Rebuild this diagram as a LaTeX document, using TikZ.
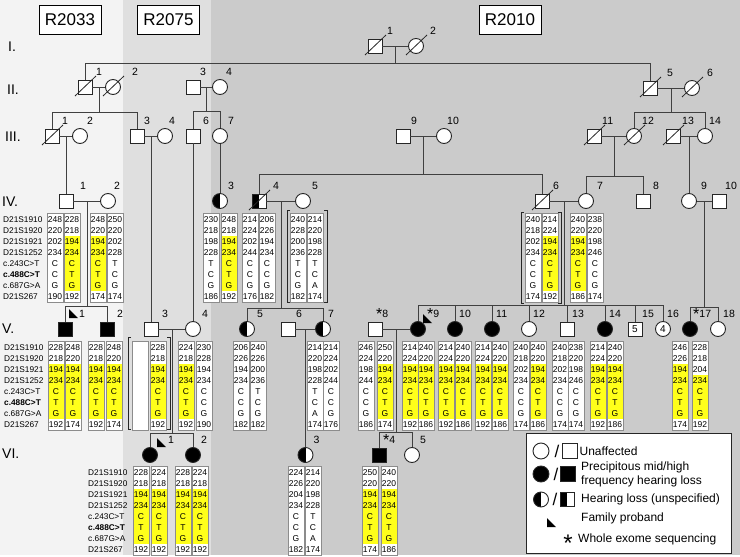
\documentclass[tikz,border=0pt]{standalone}
\usepackage{fontspec}
\setmainfont{Liberation Sans}
\usetikzlibrary{calc,positioning}

\definecolor{bandA}{HTML}{F3F3F3}
\definecolor{bandB}{HTML}{DFDFDF}
\definecolor{bandC}{HTML}{CBCBCB}
\definecolor{hl}{HTML}{FFFF1A}

% haplotype column: name, x, y of first row, first yellow row (0 = none), alleles
\newcommand{\gcol}[5]{%
  \fill[white] (#2-8,#3-6) rectangle (#2+8,#3+83);
  \ifnum#4>0 \fill[hl] (#2-8,#3+#4*11-16.5) rectangle (#2+8,#3+71.5);\fi
  \draw[gbox] (#2-8,#3-6) rectangle (#2+8,#3+83);
  \foreach \v [count=\i from 0] in {#5} {\node[gt] (#1-\i) at (#2,#3+\i*11) {\v};}
}
% marker names
\newcommand{\markers}[3]{%
  \foreach \m [count=\i from 0] in {D21S1910,D21S1920,D21S1921,D21S1252,c.243C>T,\textbf{c.488C>T},c.687G>A,D21S267}
    {\node[mk] (#1-\i) at (#2,#3+\i*11) {\m};}
}
% inferred genotypes
\newcommand{\brk}[4]{%
  \draw[brkt] (#1+3,#3) -- (#1,#3) -- (#1,#4) -- (#1+3,#4);
  \draw[brkt] (#2-3,#3) -- (#2,#3) -- (#2,#4) -- (#2-3,#4);
}
\newcommand{\proband}[3]{\fill ([shift={(#2,#3)}]#1.center) -- ++(0,-9) -- ++(9,9) -- cycle;}
% whole exome mark
\newcommand{\wes}{\raisebox{-2.5pt}{\fontsize{16}{16}\selectfont *}}

\begin{document}
\begin{tikzpicture}[x=1pt,y=-1pt,
    ln/.style={line width=0.9pt, draw=black!75},
    dline/.style={line width=0.8pt, draw=black!85},
    ind/.style={draw=black!85, line width=0.9pt, fill=white, inner sep=0pt, font=\fontsize{10}{10}\selectfont},
    male/.style={ind, rectangle, minimum size=14pt},
    female/.style={ind, circle, minimum size=15pt},
    aff/.style={fill=black},
    half/.style={path picture={\fill[black] (path picture bounding box.south west) rectangle (path picture bounding box.north);}},
    lbl/.style={anchor=west, inner sep=0pt, font=\fontsize{10.5}{11}\selectfont},
    num/.style 2 args={append after command={([shift={(#1,-15)}]\tikzlastnode.center) node[lbl]{#2}}},
    gen/.style={anchor=west, inner sep=0pt, font=\fontsize{14}{14}\selectfont},
    fam/.style={draw, line width=0.8pt, fill=white, minimum width=62pt, minimum height=29pt, font=\fontsize{17}{17}\selectfont},
    gbox/.style={draw=black!45, line width=0.5pt},
    gt/.style={inner sep=0pt, text height=6pt, text depth=0pt, font=\fontsize{8.5}{9}\selectfont},
    mk/.style={anchor=west, inner sep=0pt, text height=6pt, text depth=0pt, font=\fontsize{8.3}{9}\selectfont},
    brkt/.style={line width=0.8pt, draw=black!85},
    lgtxt/.style={anchor=west, inner sep=0pt, align=left, font=\fontsize{12}{14}\selectfont}
]
\useasboundingbox (0,0) rectangle (740,557);
\fill[white] (0,0) rectangle (740,557);
\fill[bandA] (0,0) rectangle (123,555);
\fill[bandB] (123,0) rectangle (211,555);
\fill[bandC] (211,0) rectangle (740,555);

\node[fam] (fA) at (70,19.5) {R2033};
\node[fam] (fB) at (168.5,19.5) {R2075};
\node[fam] (fC) at (510,20) {R2010};

\node[gen] (gI) at (8,47) {I.};
\node[gen] (gII) at (7,90) {II.};
\node[gen] (gIII) at (5,137) {III.};
\node[gen] (gIV) at (2,202) {IV.};
\node[gen] (gV) at (2,329) {V.};
\node[gen] (gVI) at (2,454) {VI.};

% generation I
\node[male, num={12}{1}] (I1) at (375,46) {};
\node[female, num={14}{2}] (I2) at (416,46) {};
% generation II
\node[male, num={11}{1}] (II1) at (85,87) {};
\node[female, num={19}{2}] (II2) at (113,87) {};
\node[male, num={7}{3}] (II3) at (193,87) {};
\node[female, num={6}{4}] (II4) at (220,87) {};
\node[male, num={17}{5}] (II5) at (650,88) {};
\node[female, num={15}{6}] (II6) at (692,88) {};
% generation III
\node[male, num={10}{1}] (III1) at (52,136) {};
\node[female, num={7}{2}] (III2) at (80,136) {};
\node[male, num={7}{3}] (III3) at (137,136) {};
\node[female, num={4}{4}] (III4) at (165,136) {};
\node[male, num={10}{6}] (III6) at (193,136) {};
\node[female, num={8}{7}] (III7) at (220,136) {};
\node[male, num={8}{9}] (III9) at (403,136) {};
\node[female, num={3}{10}] (III10) at (444,136) {};
\node[male, num={8}{11}] (III11) at (594,136) {};
\node[female, num={8}{12}] (III12) at (634,136) {};
\node[male, num={9}{13}] (III13) at (673,136) {};
\node[female, num={4}{14}] (III14) at (705,136) {};
% generation IV
\node[male, num={14}{1}] (IV1) at (66,201) {};
\node[female, num={6}{2}] (IV2) at (108,201) {};
\node[female, half, num={8}{3}] (IV3) at (220,201) {};
\node[male, half, num={14}{4}] (IV4) at (259,201) {};
\node[female, num={9}{5}] (IV5) at (303,201) {};
\node[male, num={11}{6}] (IV6) at (542,201) {};
\node[female, num={11}{7}] (IV7) at (586,201) {};
\node[male, num={10}{8}] (IV8) at (643,201) {};
\node[female, num={12}{9}] (IV9) at (689,201) {};
\node[male, num={6}{10}] (IV10) at (719,201) {};
% generation V
\node[male, aff, num={14}{1}] (V1) at (65,329) {};
\node[male, aff, num={10}{2}] (V2) at (107,329) {};
\node[male, num={11}{3}] (V3) at (151,329) {};
\node[female, num={9}{4}] (V4) at (193,329) {};
\node[female, half, num={10}{5}] (V5) at (247,329) {};
\node[male, num={8}{6}] (V6) at (288,329) {};
\node[female, half, num={5}{7}] (V7) at (323,329) {};
\node[male, num={1}{\wes 8}] (V8) at (375,329) {};
\node[female, aff, num={9}{\wes 9}] (V9) at (418,329) {};
\node[female, aff, num={4}{10}] (V10) at (455,329) {};
\node[female, aff, num={4}{11}] (V11) at (492,329) {};
\node[female, num={4}{12}] (V12) at (529,329) {};
\node[male, num={5}{13}] (V13) at (567,329) {};
\node[female, aff, num={4}{14}] (V14) at (605,329) {};
\node[male, num={7}{15}] (V15) at (635,329) {5};
\node[female, num={4}{16}] (V16) at (663,329) {4};
\node[female, aff, num={3}{\wes 17}] (V17) at (690,329) {};
\node[female, num={5}{18}] (V18) at (718,329) {};
% generation VI
\node[female, aff, num={18}{1}] (VI1) at (150,455) {};
\node[female, aff, num={8}{2}] (VI2) at (193,455) {};
\node[female, half, num={8}{3}] (VI3) at (305.5,455) {};
\node[male, aff, num={4}{\wes 4}] (VI4) at (379,455) {};
\node[female, num={8}{5}] (VI5) at (412,455) {};

\foreach \n in {I1,I2,II1,II2,II5,II6,III1,III11,III12,III13,IV4,IV6}
  \draw[dline] ([shift={(-10,9)}]\n.center) -- ([shift={(11,-11)}]\n.center);
\proband{V1}{4}{-11}
\proband{V9}{5}{-6}
\proband{VI1}{7}{-8}

% couples and sibships
\foreach \a/\b in {I1/I2,II1/II2,II3/II4,II5/II6,III1/III2,III3/III4,III9/III10,III11/III12,III13/III14,IV1/IV2,IV4/IV5,IV6/IV7,IV9/IV10,V3/V4,V6/V7,V8/V9}
  {\draw[ln] (\a.east) -- (\b.west);
   \coordinate (m\a) at ($(\a)!.5!(\b)$);}
\foreach \p/\y/\f/\l in {I1/63/II1/II5,II1/112/III1/III3,II3/111/III6/III7,II5/112/III12/III14,III9/174/IV4/IV6,III11/176/IV7/IV8,IV1/306/V1/V2,IV4/308/V5/V7,IV6/305/V9/V16,IV9/307/V17/V18,V3/433/VI1/VI2,V8/432/VI4/VI5}
  {\coordinate (s\p) at (0,\y);
   \draw[ln] (m\p) -- (m\p |- s\p);
   \draw[ln] (\f.north) |- (\l.north |- s\p) -- (\l.north);}
\foreach \c in {V10,V11,V12,V13,V14,V15}
  \draw[ln] (\c.north) -- (\c.north |- sIV6);
\draw[ln] (IV1.north) -- (IV1.north |- mIII1);
\draw[ln] (V3.north) -- (V3.north |- mIII3);
\draw[ln] (V4.north) -- (V4.north |- III6.south);
\draw[ln] (IV3.north) -- (IV3.north |- III7.south);
\draw[ln] (IV9.north) -- (IV9.north |- mIII13);
\draw[ln] (VI3.north) -- (VI3.north |- mV6);

% R2033
\markers{mkIV}{3}{219}
\gcol{IV1a}{55}{219}{0}{248,220,202,234,C,C,G,190}
\gcol{IV1b}{72}{219}{3}{228,218,194,234,C,T,G,192}
\gcol{IV2a}{98}{219}{3}{248,220,194,234,C,T,G,174}
\gcol{IV2b}{115}{219}{0}{250,220,202,228,T,C,G,174}
\markers{mkV}{4}{347}
\gcol{V1a}{56}{347}{3}{228,218,194,234,C,T,G,192}
\gcol{V1b}{73}{347}{3}{248,220,194,234,C,T,G,174}
\gcol{V2a}{96}{347}{3}{228,218,194,234,C,T,G,192}
\gcol{V2b}{114}{347}{3}{248,220,194,234,C,T,G,174}

% R2075
\gcol{V3a}{140}{347}{0}{}
\gcol{V3b}{158}{347}{3}{228,218,194,234,C,T,G,192}
\brk{128}{170}{337}{429}
\gcol{V4a}{186}{347}{3}{224,218,194,234,C,T,G,192}
\gcol{V4b}{204}{347}{0}{230,228,194,234,C,C,G,190}
\markers{mkVI}{88}{472}
\gcol{VI1a}{141}{472}{3}{228,218,194,234,C,T,G,192}
\gcol{VI1b}{159}{472}{3}{224,218,194,234,C,T,G,192}
\gcol{VI2a}{183}{472}{3}{228,218,194,234,C,T,G,192}
\gcol{VI2b}{200}{472}{3}{224,218,194,234,C,T,G,192}

% R2010
\gcol{IV3a}{211}{219}{0}{230,218,198,228,T,C,G,186}
\gcol{IV3b}{229}{219}{3}{248,218,194,234,C,T,G,192}
\gcol{IV4a}{250}{219}{0}{214,224,202,244,C,C,G,176}
\gcol{IV4b}{267}{219}{0}{206,226,194,234,C,C,G,182}
\gcol{IV5a}{298}{219}{0}{240,228,200,236,T,C,G,182}
\gcol{IV5b}{315}{219}{0}{214,220,198,228,T,C,A,174}
\brk{287}{327}{210}{302}
\gcol{IV6a}{533}{219}{0}{240,218,202,234,C,C,G,174}
\gcol{IV6b}{550}{219}{3}{214,224,194,234,C,T,G,192}
\brk{521}{561}{212}{303}
\gcol{IV7a}{578}{219}{3}{240,220,194,234,C,T,G,186}
\gcol{IV7b}{595}{219}{0}{238,220,198,246,C,C,G,174}

\gcol{V5a}{241}{347}{0}{206,226,194,234,C,C,G,182}
\gcol{V5b}{258}{347}{0}{240,226,200,236,T,C,G,182}
\gcol{V7a}{315}{347}{0}{214,220,198,228,T,C,A,174}
\gcol{V7b}{331}{347}{0}{214,224,202,244,C,C,G,176}
\gcol{V8a}{366}{347}{0}{246,224,198,244,C,C,G,186}
\gcol{V8b}{385}{347}{3}{250,220,194,234,C,T,G,174}
\gcol{V9a}{410}{347}{3}{214,224,194,234,C,T,G,192}
\gcol{V9b}{426}{347}{3}{240,220,194,234,C,T,G,186}
\gcol{V10a}{446}{347}{3}{214,224,194,234,C,T,G,192}
\gcol{V10b}{463}{347}{3}{240,220,194,234,C,T,G,186}
\gcol{V11a}{483}{347}{3}{214,224,194,234,C,T,G,192}
\gcol{V11b}{500}{347}{3}{240,220,194,234,C,T,G,186}
\gcol{V12a}{521}{347}{0}{240,218,202,234,C,C,G,174}
\gcol{V12b}{538}{347}{3}{240,220,194,234,C,T,G,186}
\gcol{V13a}{560}{347}{0}{240,218,202,234,C,C,G,174}
\gcol{V13b}{576}{347}{0}{238,220,198,246,C,C,G,174}
\gcol{V14a}{598}{347}{3}{214,224,194,234,C,T,G,192}
\gcol{V14b}{615}{347}{3}{240,220,194,234,C,T,G,186}
\gcol{V17a}{680}{347}{3}{246,226,194,234,C,T,G,174}
\gcol{V17b}{700}{347}{4}{228,218,204,234,C,T,G,192}

\gcol{VI3a}{296}{472}{0}{224,226,204,234,C,C,G,182}
\gcol{VI3b}{313}{472}{0}{214,220,198,228,T,C,A,174}
\gcol{VI4a}{370}{472}{3}{250,220,194,234,C,T,G,174}
\gcol{VI4b}{389}{472}{3}{240,220,194,234,C,T,G,186}

% legend
\node[draw=black!85, line width=0.8pt, fill=white, inner sep=0pt, minimum width=205pt, minimum height=120pt, anchor=north west] (legend) at (526,433) {};
\node[female, minimum size=16pt] (lgU1) at (541,451) {};
\node[inner sep=0pt, font=\fontsize{17}{17}\selectfont] (lgU2) at (557,451) {/};
\node[male, minimum size=15pt] (lgU3) at (570,451) {};
\node[lgtxt, right=1.5pt of lgU3] (lgU4) {Unaffected};
\node[female, aff, minimum size=16pt] (lgP1) at (541,474) {};
\node[inner sep=0pt, font=\fontsize{17}{17}\selectfont] (lgP2) at (556,474) {/};
\node[male, aff, minimum size=15pt] (lgP3) at (568,474) {};
\node[lgtxt] (lgP4) at (581,474) {Precipitous mid/high\\frequency hearing loss};
\node[female, half, minimum size=15pt] (lgH1) at (541,499.5) {};
\node[inner sep=0pt, font=\fontsize{17}{17}\selectfont] (lgH2) at (555,499.5) {/};
\node[male, half, minimum size=14pt] (lgH3) at (567,499.5) {};
\node[lgtxt] (lgH4) at (581,499.5) {Hearing loss (unspecified)};
\fill (547,527) -- ++(0,-9) -- ++(9,9) -- cycle;
\node[lgtxt] (lgF) at (581,518) {Family proband};
\node[inner sep=0pt, font=\fontsize{24}{24}\selectfont] (lgW1) at (568,543) {*};
\node[lgtxt] (lgW2) at (578,539) {Whole exome sequencing};
\end{tikzpicture}
\end{document}
